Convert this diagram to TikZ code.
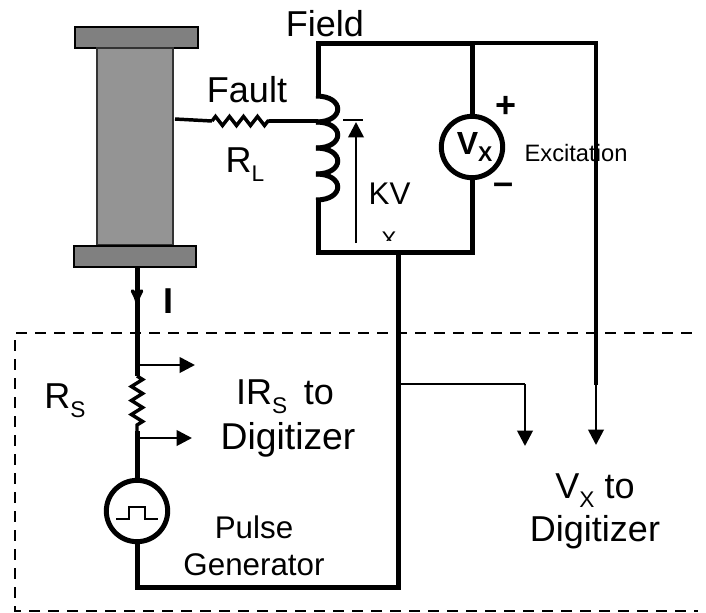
\documentclass[tikz,border=0pt]{standalone}
\usepackage{fontspec}
\setmainfont{Liberation Sans}
\usetikzlibrary{arrows, arrows.meta, decorations.pathmorphing}
\newcommand{\lowtext}[1]{\raisebox{-.25em}{\fontsize{17}{17}\selectfont #1}}
\tikzstyle{flange}=[rectangle,draw,line width=1.5pt,fill=black!50,minimum width=92pt,minimum height=15.75pt,inner sep=0pt]
\tikzstyle{bar}=[rectangle,draw=black!80,line width=1pt,fill=black!42,minimum width=57pt,minimum height=147.75pt,inner sep=0pt]
\tikzstyle{meter}=[circle,draw,line width=3.75pt,fill=white,minimum size=46pt,inner sep=0pt]
\tikzstyle{label}=[inner sep=0pt,font=\fontsize{27}{27}\selectfont]
\tikzstyle{small}=[inner sep=0pt,font=\fontsize{23.5}{23.5}\selectfont]
\tikzstyle{wire}=[draw,line width=3.75pt]
\tikzstyle{lead}=[draw,line width=2.6pt]
\tikzstyle{thin}=[draw,line width=2pt]
\tikzstyle{fine}=[draw,line width=1.3pt]
\tikzstyle{arrow}=[draw,line width=2pt,-{Triangle[length=11.5pt,width=11.5pt]}]
\tikzstyle{res}=[decorate,decoration={zigzag,segment length=10.5pt,amplitude=3.4pt}]
\tikzstyle{resv}=[decorate,decoration={zigzag,segment length=10.5pt,amplitude=4.2pt}]
\tikzstyle{frame}=[draw,line width=1.5pt,dash pattern=on 8.5pt off 5.75pt]
\begin{document}
\begin{tikzpicture}[x=0.75pt,y=-0.75pt,node distance=1.5cm]
		\useasboundingbox (0,0) rectangle (706,612);
		
		\node (topflange) [flange] at (136.5,37.5) {};
		\node (column) [bar, below of=topflange, node distance=81.75pt, xshift=-1.1pt] {};
		\node (botflange) [flange, below of=column, node distance=82.5pt] {};
		\node (vx) [meter] at (472,147) {\hspace{4pt}\fontsize{24}{24}\selectfont\bfseries V\raisebox{-.2em}{\fontsize{16}{16}\selectfont X}};
		\node (pulse) [meter] at (137,511) {};
		
		\coordinate (tap) at (175,119);
		\coordinate (rla) at (212,121);
		\coordinate (rlb) at (269,121);
		\coordinate (coiljoint) at (318,121);
		\coordinate (coiltop) at (318,96);
		\coordinate (coilbot) at (318,200);
		\coordinate (tl) at (318,43);
		\coordinate (tr) at (472,43);
		\coordinate (bl) at (318,252);
		\coordinate (br) at (472,252);
		\coordinate (midrail) at (398,252);
		\coordinate (midbot) at (398,587);
		\coordinate (pulsebot) at (137,587);
		\coordinate (farright) at (596,43);
		\coordinate (vxtip) at (596,445);
		\coordinate (vxknee) at (596,385);
		\coordinate (branch) at (398,384);
		\coordinate (branchknee) at (525,384);
		\coordinate (branchtip) at (525,446);
		\coordinate (flangeout) at (137,267);
		\coordinate (rsa) at (137,376);
		\coordinate (rsb) at (137,431);
		\coordinate (sensea) at (137,365);
		\coordinate (senseatip) at (195,365);
		\coordinate (senseb) at (137,438);
		\coordinate (sensebtip) at (192,438);
		\coordinate (current) at (137,304);
		\coordinate (kvbase) at (356,243);
		\coordinate (kvtip) at (356,122);
		\coordinate (kvbarl) at (343,120);
		\coordinate (kvbarr) at (363,120);
		
		\draw[wire] (tl) -- (coiltop);
		\foreach \k in {0,1,2,3}
			\draw[wire] (316,96+26*\k) .. controls (345,96+26*\k) and (345,122+26*\k) .. (316,122+26*\k);
		\draw[wire] (coilbot) -- (bl);
		\draw[wire,line cap=rect] (tl) -- (tr);
		\draw[wire] (tr) -- (vx);
		\draw[wire] (vx) -- (br);
		\draw[wire,line cap=rect] (bl) -- (br);
		\draw[lead] (tap) -- (rla);
		\draw[lead,res] (rla) -- (rlb);
		\draw[lead] (rlb) -- (coiljoint);
		\draw[lead] (tr) -- (farright) -- (vxknee);
		\draw[arrow] (vxknee) -- (vxtip);
		\draw[wire] (midrail) -- (midbot) -- (pulsebot) -- (pulse);
		\draw[thin] (branch) -- (branchknee);
		\draw[arrow] (branchknee) -- (branchtip);
		\draw[wire] (flangeout) -- (rsa);
		\draw[lead,-stealth'] (flangeout) -- (current);
		\draw[lead,resv] (rsa) -- (rsb);
		\draw[wire] (rsb) -- (pulse);
		\draw[arrow] (sensea) -- (senseatip);
		\draw[arrow] (senseb) -- (sensebtip);
		\draw[arrow] (kvbase) -- (kvtip);
		\draw[fine] (kvbarl) -- (kvbarr);
		
		\coordinate (pulsea) at (116,519);
		\coordinate (pulseb) at (129,519);
		\coordinate (pulsec) at (129,507);
		\coordinate (pulsed) at (145,507);
		\coordinate (pulsee) at (145,519);
		\coordinate (pulsef) at (158,519);
		\draw[fine] (pulsea) -- (pulseb) -- (pulsec) -- (pulsed) -- (pulsee) -- (pulsef);
		
		\coordinate (dasha) at (16,333);
		\coordinate (dashb) at (698,333);
		\coordinate (dashe) at (15,340);
		\coordinate (dashc) at (15,611);
		\coordinate (dashd) at (698,611);
		\draw[frame] (dasha) -- (dashb);
		\draw[frame] (dashe) -- (dashc) -- (dashd);
		
		\node (field) [label] at (325,24) {Field};
		\node (fault) [label] at (247,90) {Fault};
		\node (rl) [label] at (245,165) {R\lowtext{L}};
		\node (kv) [inner sep=0pt,font=\fontsize{23.5}{23.5}\selectfont] at (389.5,194) {KV};
		\begin{scope}
			\clip (370,225) rectangle (410,240);
			\node (kvsub) [inner sep=0pt,font=\fontsize{17}{17}\selectfont] at (389,240) {X};
		\end{scope}
		\node (plus) [inner sep=0pt,font=\fontsize{27}{27}\selectfont\bfseries] at (506,107) {+};
		\node (minus) [inner sep=0pt,font=\fontsize{27}{27}\selectfont\bfseries] at (504,189) {–};
		\node (excitation) [inner sep=0pt,font=\fontsize{17.8}{17.8}\selectfont] at (576,153) {Excitation};
		\node (ilabel) [label,font=\fontsize{27}{27}\selectfont\bfseries] at (168.5,301) {I};
		\node (rs) [label] at (65,401) {R\lowtext{S}};
		\node (irs) [label] at (285,397) {IR\lowtext{S}\hspace{5pt} to};
		\node (dig1) [label,font=\fontsize{28}{28}\selectfont] at (288,440) {Digitizer};
		\node (pulselabel) [small] at (254,527) {Pulse};
		\node (genlabel) [small] at (254,565) {Generator};
		\node (vxto) [label] at (595,491) {V\lowtext{X} to};
		\node (dig2) [label] at (595,532) {Digitizer};
		
\end{tikzpicture}
\end{document}
